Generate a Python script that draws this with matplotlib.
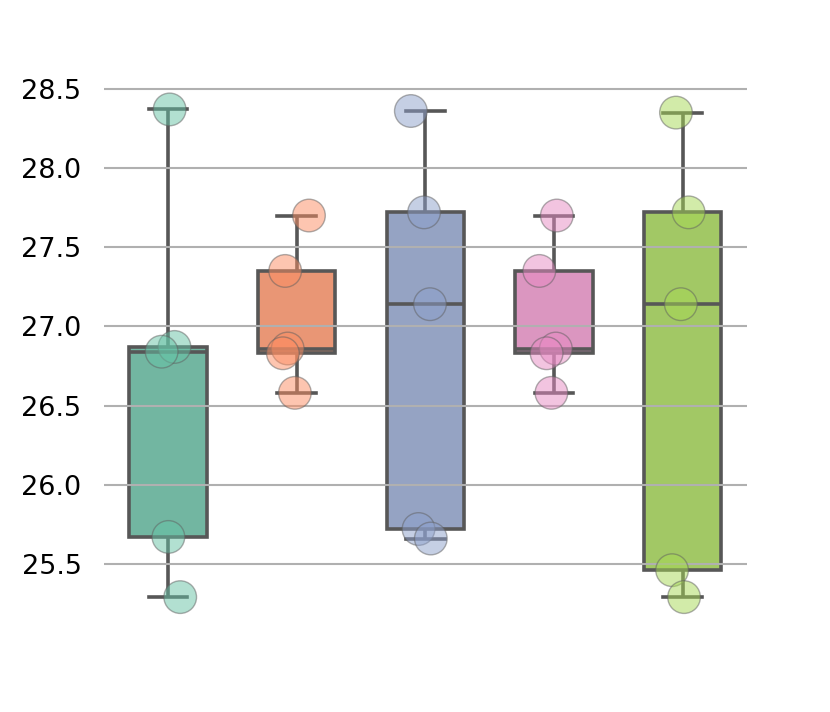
import numpy as np
import pandas as pd
import seaborn as sns
import matplotlib
matplotlib.use("Agg")
import matplotlib.pyplot as plt

groups = ["A", "B", "C", "D", "E"]
values_a = [28.37, 26.87, 26.84, 25.67, 25.29]
values_b = [27.70, 27.35, 26.86, 26.83, 26.58]
values_c = [28.36, 27.72, 27.14, 25.72, 25.66]
values_d = [27.70, 27.35, 26.86, 26.83, 26.58]
values_e = [28.35, 27.72, 27.14, 25.46, 25.29]

rows = []
for g, vals in zip(groups, [values_a, values_b, values_c, values_d, values_e]):
    for v in vals:
        rows.append((g, v))
df = pd.DataFrame(rows, columns=["group", "value"])

fig = plt.figure(figsize=(8.3, 7.12), dpi=100)
ax = fig.add_axes([0.125, 0.126, 0.775, 0.755])

line_gray = "#575757"
sns.boxplot(data=df, x="group", y="value", hue="group", palette="Set2",
            width=0.6, linewidth=2.6, linecolor=line_gray, fliersize=0,
            saturation=0.75, legend=False, ax=ax)

np.random.seed(3)
sns.stripplot(data=df, x="group", y="value", hue="group", palette="Set2",
              size=23.5, alpha=0.5, edgecolor="#606060", linewidth=1.0,
              jitter=0.12, legend=False, ax=ax)

ax.set_axisbelow(False)
ax.yaxis.grid(True, color="#b0b0b0", linewidth=1.5)
ax.xaxis.grid(False)
for s in ax.spines.values():
    s.set_visible(False)
ax.set_xlabel("")
ax.set_ylabel("")
ax.set_xticks([])
ax.set_yticks([25.5, 26.0, 26.5, 27.0, 27.5, 28.0, 28.5])
ax.set_yticklabels(["25.5", "26.0", "26.5", "27.0", "27.5", "28.0", "28.5"])
ax.tick_params(axis="y", length=0, pad=16, labelsize=19.5)
ax.set_xlim(-0.5, 4.5)
ax.set_ylim(25.131, 28.526)

fig.savefig("out.png", dpi=100)
